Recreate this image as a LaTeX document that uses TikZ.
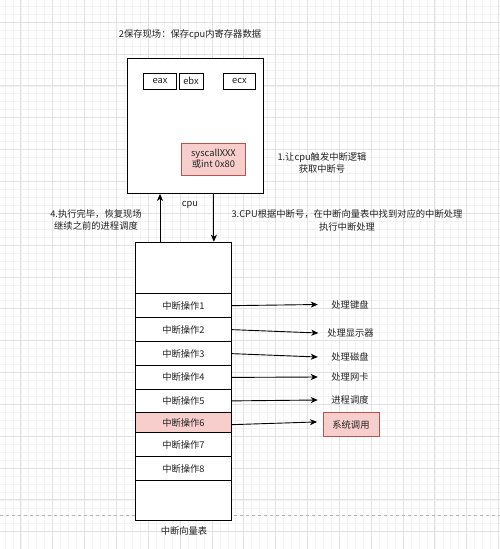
\documentclass[tikz,border=0pt]{standalone}
\usepackage{fontspec}
\setmainfont{Noto Sans CJK SC}
\usetikzlibrary{arrows.meta}
\definecolor{pinkfill}{HTML}{F8CECC}
\definecolor{pinkline}{HTML}{B85450}
\definecolor{gridmin}{HTML}{F3F3F3}
\definecolor{gridmaj}{HTML}{E2E2E2}
\definecolor{txt}{HTML}{222222}
\tikzset{
  box/.style={draw=black, fill=white, line width=0.9pt, anchor=north west, inner sep=0pt, font=\fontsize{9.3}{11}\selectfont, text=txt},
  hot/.style={box, fill=pinkfill, draw=pinkline},
  lbl/.style={inner sep=0pt, font=\fontsize{9.3}{12.5}\selectfont, text=txt, align=center},
  arr/.style={draw=black, line width=0.9pt, -{Stealth[length=7pt,width=6pt,inset=2pt]}},
}
\begin{document}
\begin{tikzpicture}[x=1pt,y=-1pt]
\useasboundingbox (0,0) rectangle (500,549);
\fill[white] (0,0) rectangle (500,549);
% grid
\foreach \i in {-2,...,63} {
  \draw[gridmin, line width=0.4pt] ({20.7+\i*7.9625},0) -- ({20.7+\i*7.9625},549);
  \draw[gridmin, line width=0.4pt] (0,{22+\i*7.9625}) -- (500,{22+\i*7.9625});
}
\foreach \i in {-1,...,16} {
  \draw[gridmaj, line width=0.6pt] ({20.7+\i*31.85},0) -- ({20.7+\i*31.85},549);
  \draw[gridmaj, line width=0.6pt] (0,{22+\i*31.85}) -- (500,{22+\i*31.85});
}
\draw[gray!60, dashed, line width=0.6pt] (0,515) -- (500,515);

% CPU
\node[box, minimum width=136pt, minimum height=135pt] (cpu) at (127,58) {};
\node[box, minimum width=33pt, minimum height=16pt] (eax) at (143,72.5) {eax};
\node[box, minimum width=24pt, minimum height=16pt] (ebx) at (178.5,72.5) {ebx};
\node[box, minimum width=32pt, minimum height=16pt] (ecx) at (223,72.5) {ecx};
\node[hot, minimum width=64pt, minimum height=32pt, align=center] (sys) at (181,142.5) {syscallXXX\\或int 0x80};
\node[lbl] (title) at (190,35) {2保存现场：保存cpu内寄存器数据};
\node[lbl] (s1) at (322,163) {1.让cpu触发中断逻辑\\获取中断号};
\node[lbl] (cpulbl) at (190,205) {cpu};

% table
\node[box, minimum width=96pt, minimum height=51.5pt] (top) at (135,241.7) {};
\node[box, minimum width=96pt, minimum height=24pt] (r1) at (135,293.2) {中断操作1};
\node[box, minimum width=96pt, minimum height=24pt] (r2) at (135,317.2) {中断操作2};
\node[box, minimum width=96pt, minimum height=24pt] (r3) at (135,341.2) {中断操作3};
\node[box, minimum width=96pt, minimum height=23.5pt] (r4) at (135,365.2) {中断操作4};
\node[box, minimum width=96pt, minimum height=23.5pt] (r5) at (135,388.7) {中断操作5};
\node[hot, draw=black, minimum width=96pt, minimum height=20pt] (r6) at (135,412.2) {中断操作6};
\node[box, minimum width=96pt, minimum height=24pt] (r7) at (135,432.2) {中断操作7};
\node[box, minimum width=96pt, minimum height=24pt] (r8) at (135,456.2) {中断操作8};
\node[box, minimum width=96pt, minimum height=40pt] (bot) at (135,480.2) {};
\node[lbl] (tname) at (184,531) {中断向量表};

% labels right
\node[lbl, minimum width=64pt] (h1) at (350,304.5) {处理键盘};
\node[lbl, minimum width=64pt] (h2) at (350.5,333) {处理显示器};
\node[lbl, minimum width=64pt] (h3) at (350,357) {处理磁盘};
\node[lbl, minimum width=64pt] (h4) at (350,377) {处理网卡};
\node[lbl, minimum width=64pt] (h5) at (350,400) {进程调度};
\node[hot, minimum width=56pt, minimum height=24pt] (h6) at (322.5,412.3) {系统调用};

\draw[arr] (r1.east) -- (h1.west);
\draw[arr] (r2.east) -- (h2.west);
\draw[arr] (r3.east) -- (h3.west);
\draw[arr] (r4.east) -- (h4.west);
\draw[arr] (r5.east) -- (h5.west);
\draw[arr, shorten >=5.5pt] ([yshift=-2pt]r6.east) -- ([yshift=3pt]h6.west);

% cpu <-> table
\draw[arr] ([xshift=25pt]top.north west) -- ([xshift=25pt]top.north west |- cpu.south);
\draw[arr] ([xshift=-50pt]cpu.south east) -- ([xshift=-50pt]cpu.south east |- top.north);
\node[lbl] (s4) at (96,220) {4.执行完毕，恢复现场\\继续之前的进程调度};
\node[lbl] (s3) at (347,220.5) {3.CPU根据中断号，在中断向量表中找到对应的中断处理\\执行中断处理};
\end{tikzpicture}
\end{document}
